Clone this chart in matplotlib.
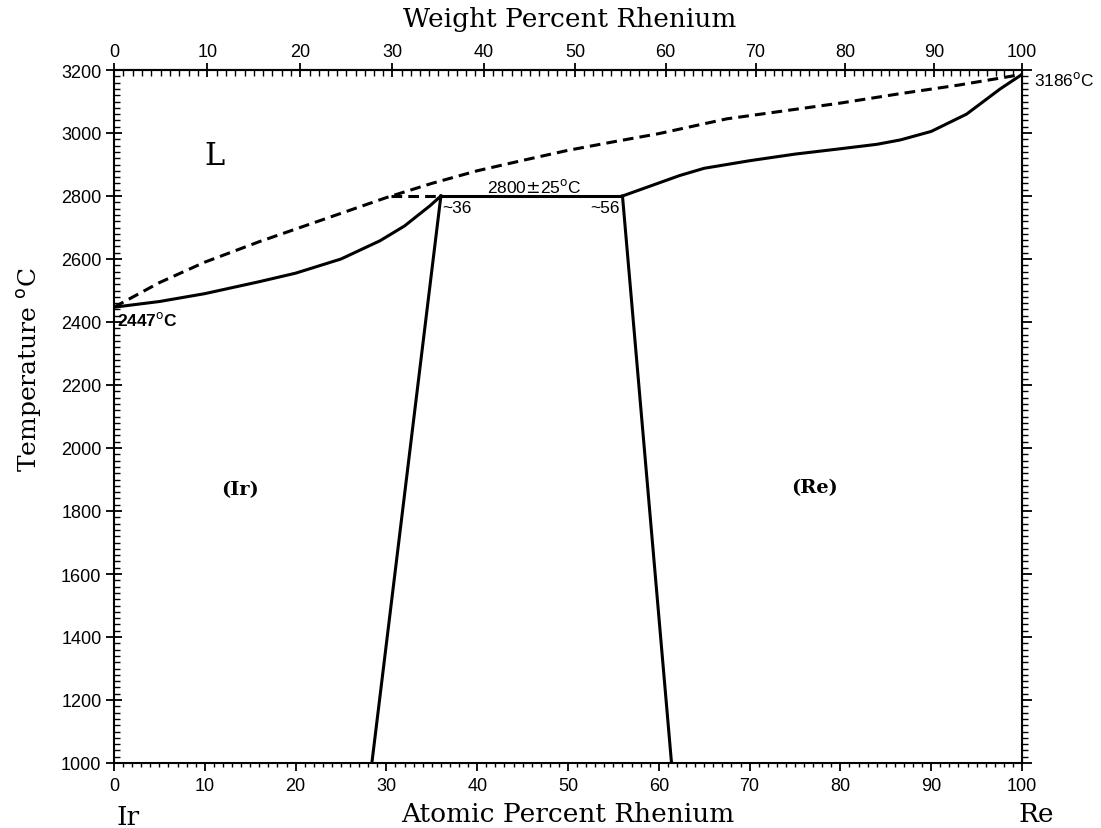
import numpy as np
import matplotlib
matplotlib.use('Agg')
import matplotlib.pyplot as plt
from matplotlib.ticker import MultipleLocator

# atomic weights used for the weight-percent scale
M_IR = 192.22
M_RE = 186.21

# liquidus (dashed), at.% Re vs temperature
liq_x = [0, 5, 10, 16, 20, 25, 30, 35, 40, 45, 50, 55, 60, 67.5, 75, 80, 86.6, 93, 100]
liq_t = [2447, 2525, 2590, 2655, 2695, 2745, 2795, 2840, 2880, 2913, 2945, 2972,
         2998, 3045, 3075, 3095, 3125, 3152, 3186]

# solidus of (Ir)
sol_ir_x = [0, 5, 10, 16, 20, 25, 29.3, 32, 34.8, 36]
sol_ir_t = [2447, 2465, 2490, 2528, 2555, 2600, 2658, 2705, 2769, 2800]

# solidus of (Re)
sol_re_x = [56, 62.3, 65, 70, 75, 80, 84, 86.6, 90, 93.9, 97.6, 100]
sol_re_t = [2800, 2865, 2888, 2912, 2933, 2950, 2964, 2978, 3005, 3060, 3140, 3186]

# solvus boundaries (Ir) and (Re)
solv_ir_x = [36, 28.4]
solv_ir_t = [2800, 1000]
solv_re_x = [56, 61.4]
solv_re_t = [2800, 1000]

# peritectic line
perit_x = [36, 56]
perit_t = [2800, 2800]
perit_dash_x = [30.5, 36]
perit_dash_t = [2800, 2800]


def at_to_wt(a):
    a = np.asarray(a, dtype=float)
    return 100 * a * M_RE / (a * M_RE + (100 - a) * M_IR)


def wt_to_at(w):
    w = np.asarray(w, dtype=float)
    return 100 * (w / M_RE) / (w / M_RE + (100 - w) / M_IR)


def same(v):
    return v


def main():
    fig = plt.figure(figsize=(11.01, 8.29), dpi=100)
    ax = fig.add_axes([114 / 1101, 1 - 764 / 829, (1022 - 114) / 1101, (764 - 71) / 829])

    lw = 2.2
    dash = (0, (3.5, 2))
    ax.plot(liq_x, liq_t, color='black', lw=lw, linestyle=dash)
    ax.plot(perit_dash_x, perit_dash_t, color='black', lw=lw, linestyle=dash)
    ax.plot(sol_ir_x, sol_ir_t, color='black', lw=lw)
    ax.plot(sol_re_x, sol_re_t, color='black', lw=lw)
    ax.plot(solv_ir_x, solv_ir_t, color='black', lw=lw)
    ax.plot(solv_re_x, solv_re_t, color='black', lw=lw)
    ax.plot(perit_x, perit_t, color='black', lw=lw)

    ax.set_xlim(0, 100)
    ax.set_ylim(1000, 3200)
    ax.xaxis.set_major_locator(MultipleLocator(10))
    ax.xaxis.set_minor_locator(MultipleLocator(1))
    ax.yaxis.set_major_locator(MultipleLocator(200))
    ax.yaxis.set_minor_locator(MultipleLocator(20))

    for s in ax.spines.values():
        s.set_linewidth(1.5)

    tick_family = 'Liberation Sans'
    tick_size = 13
    ax.tick_params(axis='x', which='major', direction='out', length=6, width=1.3, pad=4)
    ax.tick_params(axis='x', which='minor', direction='out', length=3, width=1.0)
    ax.tick_params(axis='y', which='major', direction='inout', length=12, width=1.3, pad=3)
    ax.tick_params(axis='y', which='minor', direction='in', length=4, width=1.0)
    for lab in ax.get_xticklabels() + ax.get_yticklabels():
        lab.set_fontfamily(tick_family)
        lab.set_fontsize(tick_size)

    # right axis: outward ticks, no labels
    right = ax.secondary_yaxis('right', functions=(same, same))
    right.yaxis.set_major_locator(MultipleLocator(200))
    right.yaxis.set_minor_locator(MultipleLocator(20))
    right.tick_params(axis='y', which='major', direction='out', length=7, width=1.3,
                      labelright=False)
    right.tick_params(axis='y', which='minor', direction='out', length=4, width=1.0)

    top = ax.secondary_xaxis('top', functions=(at_to_wt, wt_to_at))
    top.set_xticks(np.arange(0, 101, 10))
    top.xaxis.set_minor_locator(MultipleLocator(1))
    top.tick_params(axis='x', which='major', direction='inout', length=10, width=1.3, pad=2)
    top.tick_params(axis='x', which='minor', direction='in', length=4, width=1.0)
    top.spines['top'].set_linewidth(1.5)
    for lab in top.get_xticklabels():
        lab.set_fontfamily(tick_family)
        lab.set_fontsize(tick_size)

    serif = 'DejaVu Serif'
    fig.text(570 / 1101, 1 - 20 / 829, 'Weight Percent Rhenium', ha='center', va='center',
             family=serif, fontsize=19)
    fig.text(568 / 1101, 1 - 815 / 829, 'Atomic Percent Rhenium', ha='center', va='center',
             family=serif, fontsize=19)
    fig.text(128 / 1101, 1 - 818 / 829, 'Ir', ha='center', va='center', family=serif, fontsize=19)
    fig.text(1036 / 1101, 1 - 815 / 829, 'Re', ha='center', va='center', family=serif,
             fontsize=19)
    fig.text(30 / 1101, 1 - 370 / 829, r'Temperature $^{\mathrm{o}}$C', rotation=90,
             ha='center', va='center', family=serif, fontsize=18)

    ann = {'family': 'Liberation Sans', 'fontsize': 12.5}
    ax.text(0.3, 2408, r'2447$^{\mathrm{o}}$C', ha='left', va='center', fontweight='bold',
            family='Liberation Sans', fontsize=12.5)
    ax.text(101.3, 3171, r'3186$^{\mathrm{o}}$C', ha='left', va='center', clip_on=False, **ann)
    ax.text(46.3, 2833, r'2800$\pm$25$^{\mathrm{o}}$C', ha='center', va='center', **ann)
    ax.text(36.2, 2763, '~36', ha='left', va='center', **ann)
    ax.text(55.7, 2763, '~56', ha='right', va='center', **ann)

    ax.text(11.1, 2928, 'L', ha='center', va='center', family=serif, fontsize=22)
    ax.text(13.9, 1870, '(Ir)', ha='center', va='center', family=serif, fontsize=14,
            fontweight='bold')
    ax.text(77.2, 1876, '(Re)', ha='center', va='center', family=serif, fontsize=14,
            fontweight='bold')

    fig.savefig('out.png', dpi=100)


if __name__ == '__main__':
    main()
